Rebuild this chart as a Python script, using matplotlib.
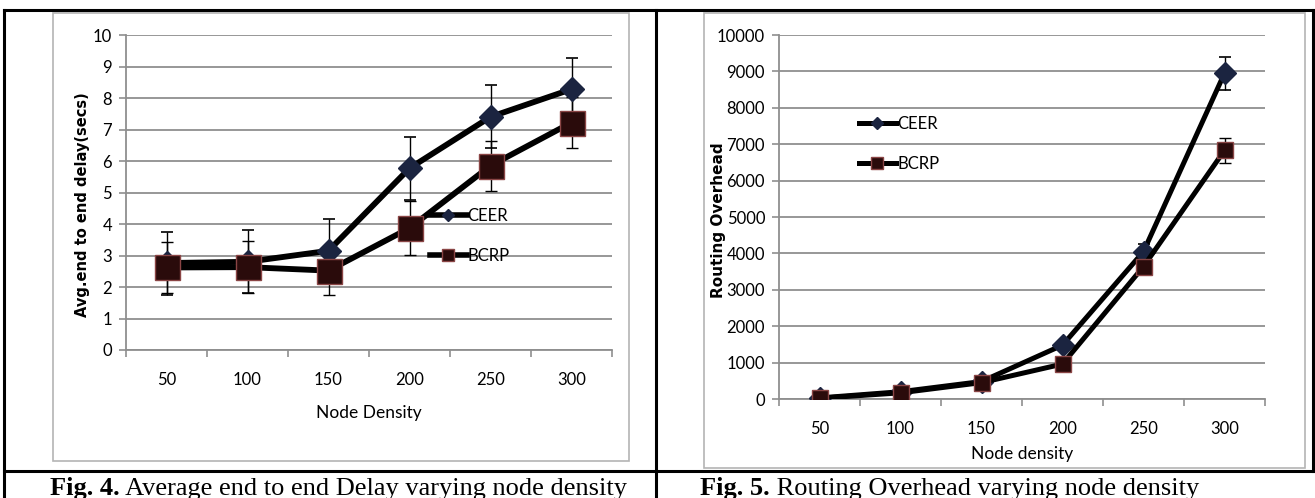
import matplotlib
matplotlib.use("Agg")
import matplotlib.pyplot as plt
from matplotlib.lines import Line2D
from matplotlib.patches import Rectangle

# === ДАННЫЕ ===
node_density = ["50", "100", "150", "200", "250", "300"]

# Fig. 4 - средняя задержка (сек)
delay_ceer = [2.76, 2.80, 3.15, 5.77, 7.40, 8.28]
delay_ceer_err = [1.0, 1.0, 1.0, 1.0, 1.0, 1.0]
delay_bcrp = [2.62, 2.63, 2.52, 3.87, 5.85, 7.22]
delay_bcrp_err = [0.8, 0.82, 0.76, 0.85, 0.8, 0.8]

# Fig. 5 - накладные расходы маршрутизации
overhead_ceer = [30, 200, 480, 1480, 4050, 8950]
overhead_ceer_err = [10, 30, 60, 100, 200, 450]
overhead_bcrp = [20, 170, 450, 960, 3640, 6830]
overhead_bcrp_err = [10, 30, 50, 80, 150, 350]

captions = [("Fig. 4.", " Average end to end Delay varying node density"),
            ("Fig. 5.", " Routing Overhead varying node density")]

W, H = 1315, 498
plt.rcParams['font.family'] = ['Lato', 'DejaVu Sans']

fig = plt.figure(figsize=(W / 100, H / 100), dpi=100)


def fx(px):
    return px / W


def fy(py):
    return 1 - py / H


GRID = '#8f8f8f'
CEER_C = '#1b2440'
BCRP_C = '#2a0b0b'
BCRP_EDGE = '#8a4545'


def style_axes(ax, ymax, ystep):
    x = list(range(1, len(node_density) + 1))
    ax.set_xlim(0.5, len(node_density) + 0.5)
    ax.set_ylim(0, ymax)
    ax.set_yticks(range(0, ymax + 1, ystep))
    ax.set_xticks(x)
    ax.set_xticklabels(node_density, fontsize=12)
    ax.set_xticks([i + 0.5 for i in range(len(node_density) + 1)], minor=True)
    ax.tick_params(axis='x', which='major', length=0, pad=16)
    ax.tick_params(axis='x', which='minor', length=5, color=GRID, width=1.2)
    ax.tick_params(axis='y', length=5, color=GRID, width=1.2, labelsize=12, pad=5)
    ax.grid(axis='y', color=GRID, linewidth=1.3)
    ax.set_axisbelow(True)
    for s in ['top', 'right']:
        ax.spines[s].set_visible(False)
    for s in ['left', 'bottom']:
        ax.spines[s].set_color(GRID)
        ax.spines[s].set_linewidth(1.3)
    return x


# --- левый график ---
ax1 = fig.add_axes([fx(126), fy(350), fx(612) - fx(126), fy(35) - fy(350)])
x = style_axes(ax1, 10, 1)
ax1.errorbar(x, delay_ceer, yerr=delay_ceer_err, color='black', lw=4.2,
             marker='D', ms=12, mfc=CEER_C, mec=CEER_C,
             ecolor='black', elinewidth=1, capsize=4, capthick=1.2, label='CEER', zorder=3)
ax1.errorbar(x, delay_bcrp, yerr=delay_bcrp_err, color='black', lw=4.2,
             marker='s', ms=18, mfc=BCRP_C, mec=BCRP_EDGE, mew=1,
             ecolor='black', elinewidth=1, capsize=4, capthick=1.2, label='BCRP', zorder=3)
ax1.set_xlabel('Node Density', fontsize=12.5, labelpad=12)
ax1.set_ylabel('Avg.end to end delay(secs)', fontsize=10.5, fontweight='bold',
               family=['DejaVu Sans'])
ax1.yaxis.set_label_coords(-0.075, 0.46)

# --- правый график ---
ax2 = fig.add_axes([fx(779), fy(399), fx(1265) - fx(779), fy(35) - fy(399)])
x = style_axes(ax2, 10000, 1000)
ax2.errorbar(x, overhead_ceer, yerr=overhead_ceer_err, color='black', lw=3.6,
             marker='D', ms=11, mfc=CEER_C, mec=CEER_C,
             ecolor='black', elinewidth=1, capsize=4, capthick=1.2, label='CEER', zorder=3)
ax2.errorbar(x, overhead_bcrp, yerr=overhead_bcrp_err, color='black', lw=3.6,
             marker='s', ms=12, mfc=BCRP_C, mec=BCRP_EDGE, mew=1,
             ecolor='black', elinewidth=1, capsize=4, capthick=1.2, label='BCRP', zorder=3)
ax2.set_xlabel('Node density', fontsize=12.5, labelpad=6)
ax2.set_ylabel('Routing Overhead', fontsize=11, fontweight='bold',
               family=['DejaVu Sans'])
ax2.yaxis.set_label_coords(-0.11, 0.49)


def legend_handles(ms_d, ms_s, lw):
    return [Line2D([], [], color='black', lw=lw, marker='D', ms=ms_d, mfc=CEER_C, mec=CEER_C),
            Line2D([], [], color='black', lw=lw, marker='s', ms=ms_s, mfc=BCRP_C, mec=BCRP_EDGE)]


fig.legend(handles=legend_handles(6, 9, 4), labels=['CEER', 'BCRP'], loc='upper left',
           bbox_to_anchor=(fx(430), fy(208)), frameon=False, fontsize=12,
           handlelength=2.2, handletextpad=0.05, labelspacing=1.45, borderaxespad=0, borderpad=0)
fig.legend(handles=legend_handles(6, 8, 3.6), labels=['CEER', 'BCRP'], loc='upper left',
           bbox_to_anchor=(fx(859), fy(116)), frameon=False, fontsize=12,
           handlelength=2.2, handletextpad=0.1, labelspacing=1.45, borderaxespad=0, borderpad=0)

# --- рамки диаграмм (серые) ---
for (l, t, r, b) in [(53, 13, 629, 461), (704, 13, 1305, 468)]:
    fig.patches.append(Rectangle((fx(l), fy(b)), fx(r) - fx(l), fy(t) - fy(b),
                                 transform=fig.transFigure, fill=False,
                                 edgecolor='#b4b4b4', lw=1.2))

# --- линии таблицы ---
for (x0, y0, x1, y1) in [(4, 10, 1313, 10), (4, 471, 1313, 471), (4, 10, 4, 498),
                         (656, 10, 656, 498), (1313, 10, 1313, 471)]:
    fig.add_artist(Line2D([fx(x0), fx(x1)], [fy(y0), fy(y1)], color='black', lw=2.2))

# --- подписи ---
fig.canvas.draw()
renderer = fig.canvas.get_renderer()
for (bold, rest), xs in zip(captions, [50, 700]):
    t = fig.text(fx(xs), fy(495), bold, fontsize=19, fontweight='bold',
                 family=['Liberation Serif'], va='baseline')
    bb = t.get_window_extent(renderer)
    fig.text(bb.x1 / W, fy(495), rest, fontsize=19, family=['Liberation Serif'], va='baseline')

fig.savefig('out.png', dpi=100)
